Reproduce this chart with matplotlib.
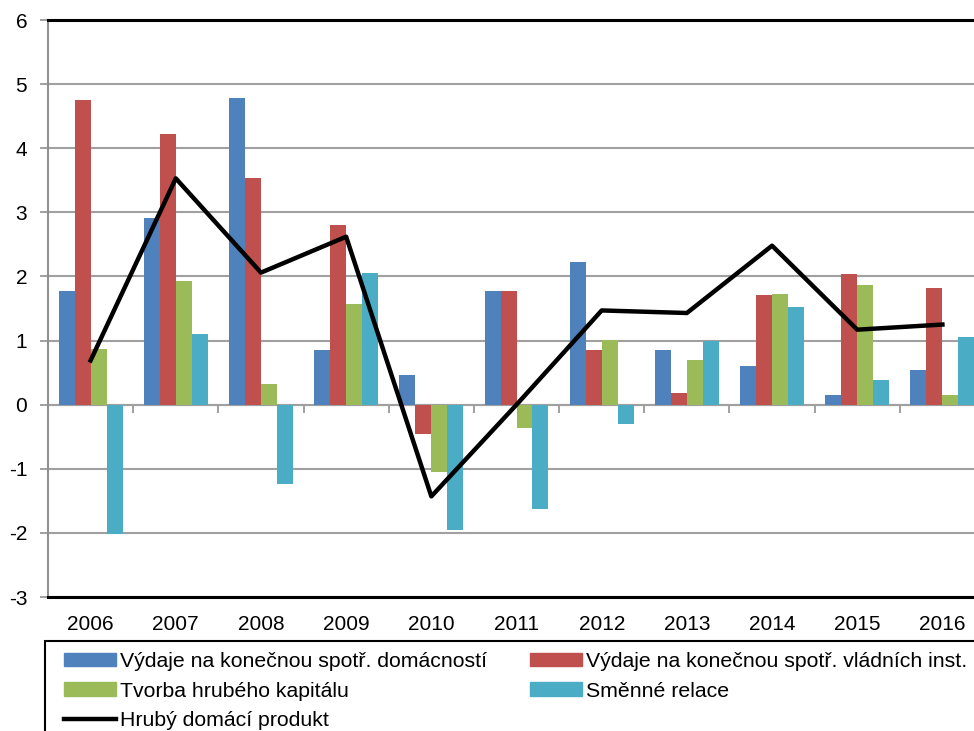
import numpy as np
import matplotlib.pyplot as plt
from matplotlib.patches import Patch, Rectangle
from matplotlib.lines import Line2D

plt.rcParams['font.family'] = ['Liberation Sans', 'DejaVu Sans']
plt.rcParams['axes.unicode_minus'] = False

# data
years = ['2006', '2007', '2008', '2009', '2010', '2011', '2012', '2013', '2014', '2015', '2016']
domacnosti = [1.77, 2.91, 4.78, 0.86, 0.46, 1.77, 2.22, 0.86, 0.61, 0.15, 0.54]
vladni = [4.75, 4.23, 3.53, 2.81, -0.45, 1.77, 0.86, 0.19, 1.71, 2.04, 1.82]
kapital = [0.87, 1.93, 0.32, 1.57, -1.05, -0.36, 1.01, 0.70, 1.73, 1.87, 0.15]
smenne = [-2.02, 1.11, -1.23, 2.05, -1.96, -1.63, -0.30, 1.00, 1.52, 0.39, 1.05]
hdp = [0.69, 3.53, 2.06, 2.62, -1.43, 0.0, 1.47, 1.43, 2.48, 1.17, 1.25]

labels = ['Výdaje na konečnou spotř. domácností',
          'Výdaje na konečnou spotř. vládních inst.',
          'Tvorba hrubého kapitálu',
          'Směnné relace',
          'Hrubý domácí produkt']
colors = ['#4F81BD', '#C0504D', '#9BBB59', '#4BACC6']

fig = plt.figure(figsize=(9.74, 7.31), dpi=100)
ax = fig.add_axes([0.0493, 0.1833, 0.962, 0.7893])

x = np.arange(len(years))
w = 0.1875
series = [domacnosti, vladni, kapital, smenne]
for i, s in enumerate(series):
    ax.bar(x + (i - 1.5) * w, s, w, color=colors[i], edgecolor='none', zorder=2)

ax.plot(x, hdp, color='black', lw=3.2, zorder=3)

ax.set_xlim(-0.5, len(years) - 0.5)
ax.set_ylim(-3, 6)
ax.set_yticks(range(-3, 7))
ax.set_xticks(x)
ax.set_xticklabels(years)
ax.tick_params(axis='x', length=0, pad=13, labelsize=15)
ax.tick_params(axis='y', length=6, width=1.2, color='#909090', pad=9, labelsize=15)

ax.grid(axis='y', color='#A0A0A0', lw=1.5, zorder=0)
ax.spines['left'].set_color('#909090')
ax.spines['left'].set_linewidth(1.5)
ax.spines['right'].set_visible(False)
ax.spines['top'].set_linewidth(2.2)
ax.spines['bottom'].set_linewidth(2.2)

# zero axis with category ticks
sec = ax.secondary_xaxis(3 / 9)
sec.set_xticks(np.arange(-0.5, len(years), 1))
sec.set_xticklabels([])
sec.tick_params(length=6, width=1.2, color='#909090')
sec.spines['bottom'].set_color('#A0A0A0')
sec.spines['bottom'].set_linewidth(1.5)

# legend box (cut by the figure edges like in the original)
fig.patches.append(Rectangle((45 / 974, -0.05), 0.98, 0.05 + 90 / 731,
                             transform=fig.transFigure, fill=False,
                             edgecolor='black', lw=1.5))

handles = [Patch(color=colors[0]), Patch(color=colors[2]),
           Line2D([], [], color='black', lw=3.2),
           Patch(color=colors[1]), Patch(color=colors[3])]
hl = [labels[0], labels[2], labels[4], labels[1], labels[3]]
leg = fig.legend(handles, hl, ncol=2, loc='upper left',
                 bbox_to_anchor=(64 / 974, (731 - 652) / 731),
                 fontsize=15.3, frameon=False,
                 handlelength=2.45, handleheight=0.6, handletextpad=0.2,
                 labelspacing=0.5, columnspacing=2.0,
                 borderpad=0, borderaxespad=0)

fig.savefig('out.png', dpi=100)
